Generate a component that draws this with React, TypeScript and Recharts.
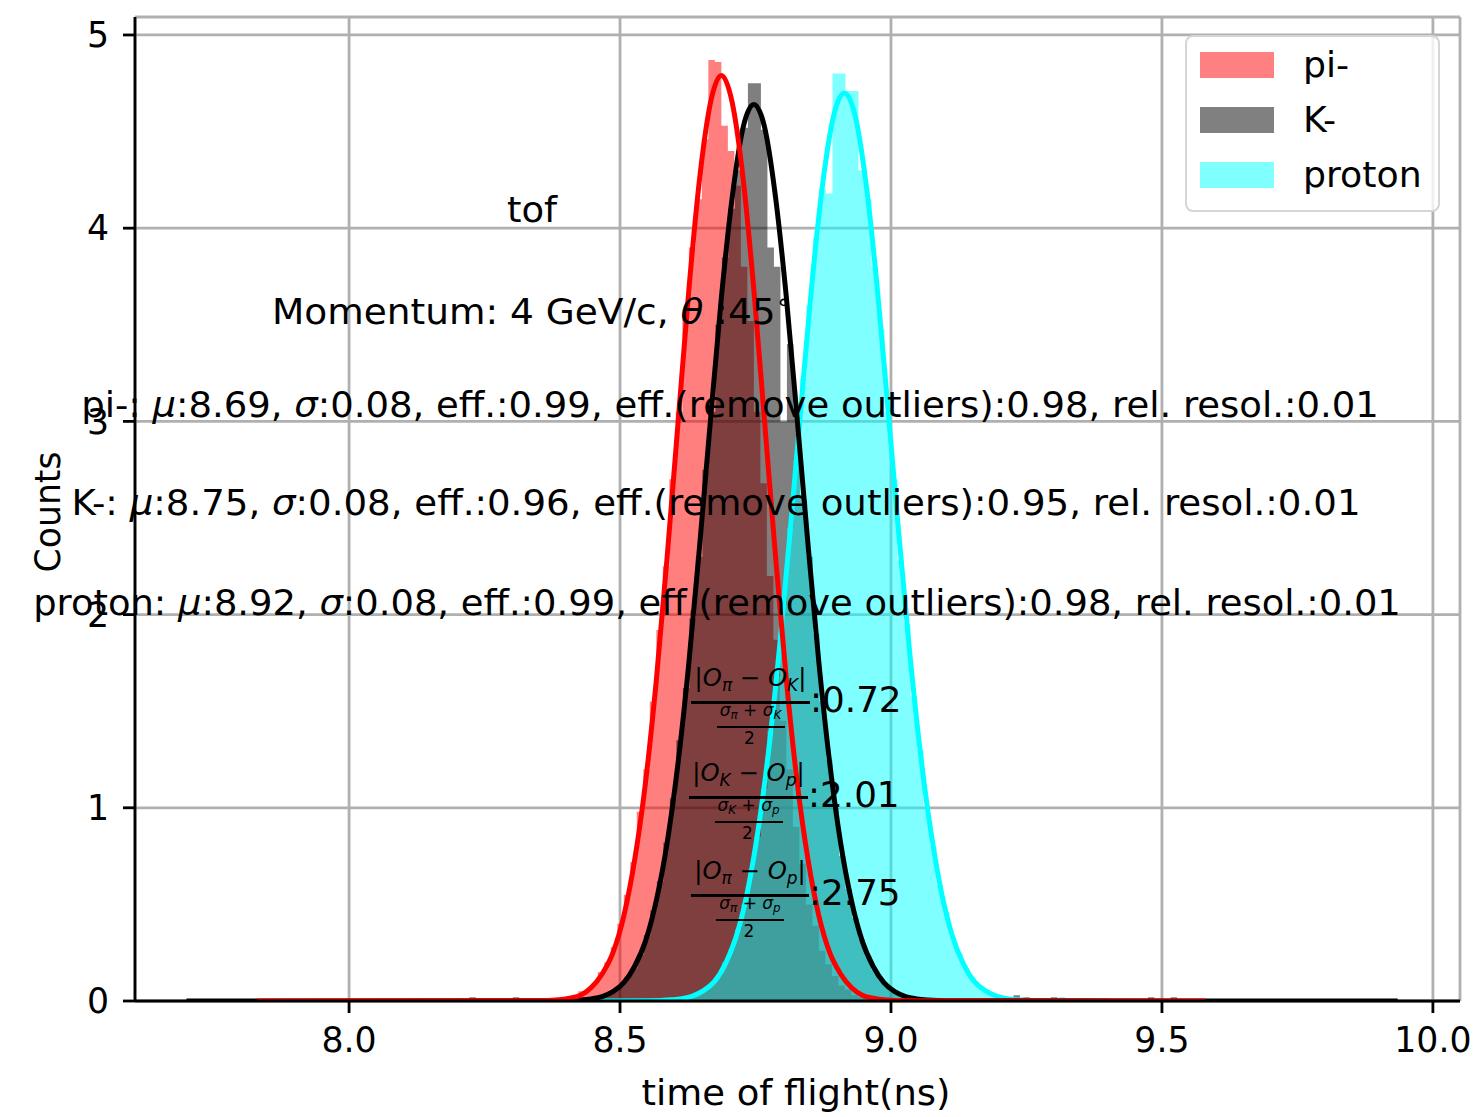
import React from 'react';
import { ComposedChart, Area, Line, XAxis, YAxis, CartesianGrid } from 'recharts';

const FONT = "'DejaVu Sans', sans-serif";
const FS = 34.7;
// glyphs are drawn a bit wide
const STRETCH = 1.065;

const xTicks = [8.0, 8.5, 9.0, 9.5, 10.0];
const yTicks = [0, 1, 2, 3, 4, 5];

// histogram bins (density), all species share one bin width
const binWidth = 0.012;

const piStart = 8.375;
const piCounts = [
  0.01, 0.01, 0.02, 0.02, 0.05, 0.06, 0.09, 0.15, 0.2, 0.28,
  0.4, 0.55, 0.72, 0.98, 1.2, 1.55, 1.92, 2.25, 2.7, 3.05,
  3.55, 3.9, 4.15, 4.46, 4.87, 4.86, 4.53, 4.4, 4.22, 3.8,
  3.52, 3.05, 2.68, 2.2, 1.87, 1.45, 1.2, 0.9, 0.71, 0.5,
  0.39, 0.26, 0.19, 0.13, 0.08, 0.06, 0.03, 0.02, 0.02, 0.01,
  0.01, 0.005,
];
const piOutliers: number[][] = [];
const piRange = [7.83, 9.58];

const kStart = 8.4;
const kCounts = [
  0.0, 0.0, 0.01, 0.01, 0.02, 0.03, 0.04, 0.05, 0.08, 0.12,
  0.17, 0.24, 0.34, 0.47, 0.62, 0.82, 1.05, 1.35, 1.62, 1.98,
  2.3, 2.75, 3.05, 3.5, 3.85, 4.1, 4.3, 4.52, 4.75, 4.75,
  4.51, 3.9, 3.8, 3.0, 3.4, 3.05, 2.6, 2.3, 1.9, 1.55,
  1.25, 1.0, 0.75, 0.58, 0.43, 0.32, 0.23, 0.16, 0.11, 0.08,
  0.05, 0.03, 0.02, 0.01, 0.01, 0.005,
];
const kOutliers = [
  [8.222, 0.02], [8.302, 0.02], [9.226, 0.03], [9.244, 0.02],
  [9.295, 0.02], [9.474, 0.02], [9.516, 0.02],
];
const kRange = [7.7, 9.935];

const pStart = 8.58;
const pCounts = [
  0.0, 0.01, 0.01, 0.02, 0.03, 0.04, 0.06, 0.09, 0.13, 0.2,
  0.27, 0.37, 0.5, 0.68, 0.85, 1.1, 1.4, 1.68, 2.05, 2.45,
  2.8, 3.22, 3.6, 3.95, 4.2, 4.18, 4.8, 4.8, 4.71, 4.71,
  4.3, 4.15, 3.8, 3.48, 3.05, 2.7, 2.28, 1.95, 1.58, 1.3,
  1.0, 0.8, 0.6, 0.46, 0.33, 0.25, 0.17, 0.12, 0.08, 0.05,
  0.04, 0.02, 0.02, 0.01, 0.01,
];
const pOutliers = [[9.2, 0.02], [9.31, 0.02]];
const pRange = [8.45, 9.4];

// gaussian fits, sampled as [x, y]
const piFit = [
  [7.83, 0], [8.347, 0.001], [8.387, 0.006], [8.407, 0.015], [8.427, 0.03],
  [8.447, 0.07], [8.467, 0.14], [8.487, 0.25], [8.507, 0.44], [8.527, 0.73],
  [8.547, 1.13], [8.567, 1.66], [8.587, 2.3], [8.607, 2.99], [8.627, 3.68],
  [8.647, 4.26], [8.667, 4.65], [8.687, 4.79], [8.707, 4.65], [8.727, 4.26],
  [8.747, 3.68], [8.767, 2.99], [8.787, 2.3], [8.807, 1.66], [8.827, 1.13],
  [8.847, 0.73], [8.867, 0.44], [8.887, 0.25], [8.907, 0.14], [8.927, 0.07],
  [8.947, 0.03], [8.967, 0.015], [8.987, 0.006], [9.027, 0.001], [9.58, 0],
];
const kFit = [
  [7.7, 0], [8.387, 0.001], [8.427, 0.005], [8.447, 0.011], [8.467, 0.023],
  [8.487, 0.048], [8.507, 0.095], [8.527, 0.18], [8.547, 0.31], [8.567, 0.52],
  [8.587, 0.82], [8.607, 1.23], [8.627, 1.75], [8.647, 2.36], [8.667, 3.01],
  [8.687, 3.64], [8.707, 4.16], [8.727, 4.52], [8.747, 4.64], [8.767, 4.52],
  [8.787, 4.16], [8.807, 3.64], [8.827, 3.01], [8.847, 2.36], [8.867, 1.75],
  [8.887, 1.23], [8.907, 0.82], [8.927, 0.52], [8.947, 0.31], [8.967, 0.18],
  [8.987, 0.095], [9.007, 0.048], [9.027, 0.023], [9.047, 0.011], [9.067, 0.005],
  [9.107, 0.001], [9.935, 0],
];
const pFit = [
  [8.45, 0], [8.554, 0.001], [8.594, 0.006], [8.614, 0.012], [8.634, 0.026],
  [8.654, 0.054], [8.674, 0.1], [8.694, 0.19], [8.714, 0.33], [8.734, 0.55],
  [8.754, 0.87], [8.774, 1.29], [8.794, 1.82], [8.814, 2.43], [8.834, 3.08],
  [8.854, 3.71], [8.874, 4.23], [8.894, 4.58], [8.914, 4.7], [8.934, 4.58],
  [8.954, 4.23], [8.974, 3.71], [8.994, 3.08], [9.014, 2.43], [9.034, 1.82],
  [9.054, 1.29], [9.074, 0.87], [9.094, 0.55], [9.114, 0.33], [9.134, 0.19],
  [9.154, 0.1], [9.174, 0.054], [9.194, 0.026], [9.214, 0.012], [9.234, 0.006],
  [9.274, 0.001], [9.4, 0],
];

const legendItems = [
  { name: 'pi-', color: '#ff8080' },
  { name: 'K-', color: '#808080' },
  { name: 'proton', color: '#80ffff' },
];

// turn bins into points for a stepAfter area
function histSteps(start: number, counts: number[], outliers: number[][], range: number[]) {
  const end = start + counts.length * binWidth;
  const pts: { x: number; y: number }[] = [{ x: range[0], y: 0 }];
  outliers.filter(([e]) => e < start).forEach(([e, h]) => {
    pts.push({ x: e, y: h }, { x: e + binWidth, y: 0 });
  });
  counts.forEach((h, i) => pts.push({ x: start + i * binWidth, y: h }));
  pts.push({ x: end, y: 0 });
  outliers.filter(([e]) => e >= end).forEach(([e, h]) => {
    pts.push({ x: e, y: h }, { x: e + binWidth, y: 0 });
  });
  pts.push({ x: range[1], y: 0 });
  return pts;
}

const toPoints = (arr: number[][]) => arr.map(([x, y]) => ({ x, y }));

const piHist = histSteps(piStart, piCounts, piOutliers, piRange);
const kHist = histSteps(kStart, kCounts, kOutliers, kRange);
const pHist = histSteps(pStart, pCounts, pOutliers, pRange);

const txt: React.CSSProperties = {
  position: 'absolute',
  whiteSpace: 'nowrap',
  fontFamily: FONT,
  color: '#000',
  lineHeight: 1,
};

function Note({ cx, cy, size = FS, sx = STRETCH, children }: { cx: number; cy: number; size?: number; sx?: number; children: React.ReactNode }) {
  return (
    <div style={{ ...txt, left: cx, top: cy, fontSize: size, transform: `translate(-50%, -50%) scaleX(${sx})` }}>
      {children}
    </div>
  );
}

const Sub = ({ children }: { children: React.ReactNode }) => (
  <span style={{ fontSize: '0.7em', verticalAlign: '-0.25em', fontStyle: 'italic' }}>{children}</span>
);

// separation ratio |O_a - O_b| / ((s_a + s_b) / 2)
function Ratio({ left, y, width, a, b, value }: { left: number; y: number; width: number; a: string; b: string; value: string }) {
  const mid = left + width / 2;
  return (
    <>
      <div style={{ position: 'absolute', left, top: y - 1.5, width, height: 3, background: '#000' }} />
      <Note cx={mid} cy={y - 22} size={24.3} sx={1}>
        |<i>O</i><Sub>{a}</Sub> − <i>O</i><Sub>{b}</Sub>|
      </Note>
      <Note cx={mid} cy={y + 10} size={17} sx={1}>
        <i>σ</i><Sub>{a}</Sub> + <i>σ</i><Sub>{b}</Sub>
      </Note>
      <div style={{ position: 'absolute', left: mid - 34, top: y + 24, width: 68, height: 2, background: '#000' }} />
      <Note cx={mid - 1} cy={y + 36} size={17} sx={1}>2</Note>
      <div
        style={{
          ...txt, left: left + width, top: y - 2, fontSize: FS,
          transform: 'translateY(-50%) scaleX(1.03)', transformOrigin: 'left center',
        }}
      >
        :{value}
      </div>
    </>
  );
}

export default function App() {
  const tick = { fill: '#000', fontSize: FS, fontFamily: FONT };
  return (
    <div style={{ position: 'absolute', left: 0, top: 0, width: 1476, height: 1117, background: '#fff' }}>
      <ComposedChart width={1476} height={1117} margin={{ top: 17, right: 16, left: 0, bottom: 0 }}>
        <XAxis
          dataKey="x"
          type="number"
          domain={[7.605, 10.05]}
          allowDataOverflow
          ticks={xTicks}
          tickFormatter={(v: number) => v.toFixed(1)}
          height={116}
          tickSize={12}
          tickMargin={14}
          tick={tick}
          axisLine={{ stroke: '#000', strokeWidth: 2.8 }}
          tickLine={{ stroke: '#000', strokeWidth: 2.8 }}
        />
        <XAxis xAxisId="top" orientation="top" type="number" domain={[0, 1]} height={0} tick={false} tickLine={false} axisLine={{ stroke: '#000', strokeWidth: 2.8 }} />
        <YAxis
          type="number"
          domain={[0, 5.093]}
          allowDataOverflow
          ticks={yTicks}
          width={135}
          tickSize={12}
          tickMargin={14}
          tick={tick}
          axisLine={{ stroke: '#000', strokeWidth: 2.8 }}
          tickLine={{ stroke: '#000', strokeWidth: 2.8 }}
        />
        <YAxis yAxisId="right" orientation="right" type="number" domain={[0, 1]} width={0} tick={false} tickLine={false} axisLine={{ stroke: '#000', strokeWidth: 2.8 }} />

        <Area data={piHist} dataKey="y" type="stepAfter" stroke="none" fill="#ff0000" fillOpacity={0.5} isAnimationActive={false} />
        <Area data={kHist} dataKey="y" type="stepAfter" stroke="none" fill="#000000" fillOpacity={0.5} isAnimationActive={false} />
        <Area data={pHist} dataKey="y" type="stepAfter" stroke="none" fill="#00ffff" fillOpacity={0.5} isAnimationActive={false} />

        <CartesianGrid stroke="#b0b0b0" strokeWidth={2.8} />

        <Line data={toPoints(pFit)} dataKey="y" type="monotone" stroke="#00ffff" strokeWidth={5} dot={false} isAnimationActive={false} />
        <Line data={toPoints(kFit)} dataKey="y" type="monotone" stroke="#000000" strokeWidth={5} dot={false} isAnimationActive={false} />
        <Line data={toPoints(piFit)} dataKey="y" type="monotone" stroke="#ff0000" strokeWidth={5} dot={false} isAnimationActive={false} />
      </ComposedChart>

      {/* axis titles */}
      <Note cx={796} cy={1093}>time of flight(ns)</Note>
      <div style={{ ...txt, left: 48, top: 512, fontSize: FS, transform: 'translate(-50%, -50%) rotate(-90deg)' }}>Counts</div>

      {/* annotations */}
      <Note cx={532} cy={210}>tof</Note>
      <Note cx={532} cy={310} sx={1.08}>
        Momentum: 4 GeV/c, <i>θ</i> :45<span style={{ fontSize: '0.7em', verticalAlign: '0.6em' }}>∘</span>
      </Note>
      <Note cx={730} cy={405} sx={1.066}>
        pi-: <i>μ</i>:8.69, <i>σ</i>:0.08, eff.:0.99, eff.(remove outliers):0.98, rel. resol.:0.01
      </Note>
      <Note cx={716} cy={503} sx={1.07}>
        K-: <i>μ</i>:8.75, <i>σ</i>:0.08, eff.:0.96, eff.(remove outliers):0.95, rel. resol.:0.01
      </Note>
      <Note cx={717} cy={603} sx={1.063}>
        proton: <i>μ</i>:8.92, <i>σ</i>:0.08, eff.:0.99, eff.(remove outliers):0.98, rel. resol.:0.01
      </Note>

      <Ratio left={691} y={702} width={119} a="π" b="K" value="0.72" />
      <Ratio left={689} y={797} width={119} a="K" b="p" value="2.01" />
      <Ratio left={691} y={895} width={118} a="π" b="p" value="2.75" />

      {/* legend */}
      <div
        style={{
          position: 'absolute', left: 1185, top: 35, width: 255, height: 177, boxSizing: 'border-box',
          border: '2px solid #d5d5d5', borderRadius: 8, background: 'rgba(255,255,255,0.8)',
        }}
      />
      {legendItems.map((it, i) => (
        <React.Fragment key={it.name}>
          <div style={{ position: 'absolute', left: 1200, top: 52 + i * 55, width: 74, height: 26, background: it.color }} />
          <div
            style={{
              ...txt, left: 1303, top: 65 + i * 55, fontSize: FS,
              transform: 'translateY(-50%) scaleX(1.045)', transformOrigin: 'left center',
            }}
          >
            {it.name}
          </div>
        </React.Fragment>
      ))}
    </div>
  );
}
